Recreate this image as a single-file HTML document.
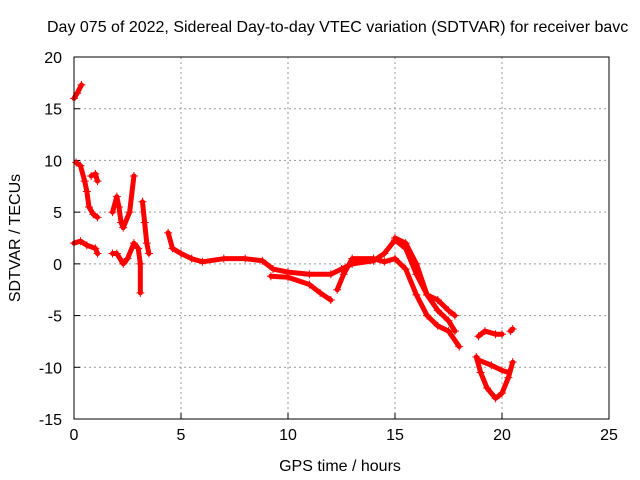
<!DOCTYPE html>
<html><head><meta charset="utf-8"><style>
html,body{margin:0;padding:0;background:#fff;width:640px;height:480px;overflow:hidden}
svg text{font-family:"Liberation Sans",sans-serif;font-size:16px;fill:#000}
</style></head><body>
<svg id="chart" width="640" height="480" xmlns="http://www.w3.org/2000/svg">
<text x="47" y="32">Day 075 of 2022, Sidereal Day-to-day VTEC variation (SDTVAR) for receiver bavc</text>
<g id="grid"></g>
<g id="axes"></g>
<g id="series"></g>
<rect x="74" y="57" width="535" height="362" fill="none" stroke="#000" stroke-width="1"/>
<text x="340" y="471" text-anchor="middle">GPS time / hours</text>
<text transform="translate(20,238) rotate(-90)" text-anchor="middle">SDTVAR / TECUs</text>
</svg>
<script>
const xTicks=[0,5,10,15,20,25];
const yTicks=[-15,-10,-5,0,5,10,15,20];
const trackA=[[0,16],[0.15,16.5],[0.35,17.3]];
const trackB=[[0.1,9.8],[0.3,9.5],[0.5,8],[0.6,7],[0.7,5.5],[0.9,4.8],[1.1,4.5]];
const trackB2=[[0.8,8.5],[1,8.7],[1.1,8]];
const trackC=[[0,2],[0.3,2.2],[0.6,1.8],[1,1.5],[1.1,1]];
const trackD=[[1.8,5],[2,6.5],[2.1,5.5],[2.2,4],[2.3,3.5],[2.6,5],[2.8,8.5]];
const trackE=[[1.8,1],[2.0,1],[2.3,0],[2.5,0.5],[2.8,2],[3,1.5],[3.1,0],[3.1,-2.8]];
const trackE2=[[3.2,6],[3.3,4],[3.4,2],[3.5,1]];
const trackMain=[[4.4,3],[4.6,1.5],[5,1],[5.5,0.5],[6,0.2],[7,0.5],[8,0.5],[8.8,0.3],[9.3,-0.5],[10,-0.8],[11,-1],[12,-1],[12.5,-0.5],[13,0],[14,0.3],[14.5,1],[15,2.3],[15.5,1.5],[16,-1],[16.5,-3],[17,-3.5],[17.5,-4.5],[17.8,-5]];
const trackLow=[[9.2,-1.2],[10,-1.3],[11,-2],[11.5,-2.8],[12,-3.5]];
const trackF=[[12.3,-2.5],[12.6,-1],[13,0.5],[14,0.5],[14.5,0.2],[15,0.5],[15.5,-0.5],[16,-3],[16.5,-5],[17,-6],[17.5,-6.5],[18,-8]];
const trackG=[[15,2.5],[15.5,2],[16,0],[16.5,-3],[17,-4.5],[17.5,-5.5],[17.8,-6.5]];
const trackH=[[18.9,-7],[19.2,-6.5],[19.7,-6.8],[20,-6.8]];
const trackLoop=[[18.8,-9],[19,-10.5],[19.3,-12],[19.7,-13],[20,-12.5],[20.3,-11],[20.5,-9.5]];
const trackLoop2=[[18.9,-9.3],[19.5,-9.8],[20,-10.3],[20.3,-10.5]];
const trackI=[[20.4,-6.5],[20.5,-6.3]];
const tracks=[trackA,trackB,trackB2,trackC,trackD,trackE,trackE2,trackMain,trackLow,trackF,trackG,trackH,trackLoop,trackLoop2,trackI];
const X0=74,X1=609,Y0=419,Y1=57;
const xs=v=>X0+(v-0)/25*(X1-X0);
const ys=v=>Y0-(v+15)/35*(Y0-Y1);
const NS="http://www.w3.org/2000/svg";
const grid=document.getElementById('grid'),axes=document.getElementById('axes'),ser=document.getElementById('series');
function mk(t,a,p){const e=document.createElementNS(NS,t);for(const k in a)e.setAttribute(k,a[k]);p.appendChild(e);return e;}
xTicks.forEach(t=>{const x=xs(t);
 if(t>0&&t<25){const g=mk('line',{x1:x,x2:x,y1:Y0,y2:Y1,stroke:'#999','stroke-dasharray':'2,3','stroke-width':1},grid);
 
 }
 const l=mk('text',{x:x,y:Y0+21,'text-anchor':'middle'},axes);l.textContent=t;
 
 
 mk('line',{x1:x,x2:x,y1:Y0,y2:Y0-6,stroke:'#000'},axes);});
yTicks.forEach(t=>{const y=ys(t);
 if(t>-15&&t<20){const g=mk('line',{x1:X0,x2:X1,y1:y,y2:y,stroke:'#999','stroke-dasharray':'2,3','stroke-width':1},grid);
 
 }
 const l=mk('text',{x:X0-12,y:y+6,'text-anchor':'end'},axes);l.textContent=t;
 
 
 mk('line',{x1:X0,x2:X0+6,y1:y,y2:y,stroke:'#000'},axes);});
tracks.forEach(tr=>{
 const pl=mk('polyline',{points:tr.map(p=>xs(p[0])+','+ys(p[1])).join(' '),fill:'none',stroke:'#f00','stroke-width':5,'stroke-linejoin':'round','stroke-linecap':'round'},ser);
 
 
 tr.forEach(p=>{const x=xs(p[0]),y=ys(p[1]);
  const m=mk('path',{d:`M${x-4},${y}H${x+4}M${x},${y-4}V${y+4}`,stroke:'#f00','stroke-width':1},ser);
  
  });
});
</script>
</body></html>
